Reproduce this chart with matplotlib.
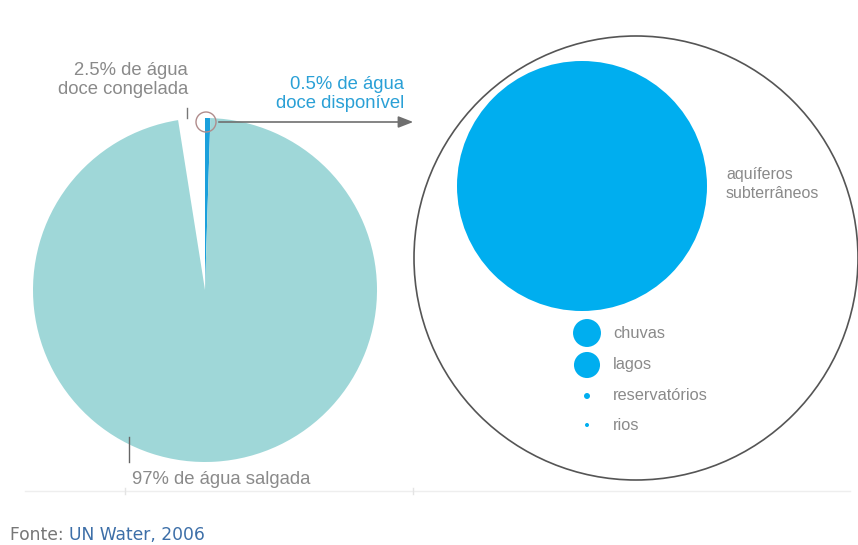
import numpy as np
import matplotlib.pyplot as plt
from matplotlib.patches import Circle

# water on earth, percent
shares = [2.5, 0.5, 97]
share_colors = ['#ffffff', '#1ba0dc', '#9fd7d8']

# available freshwater, percent of the 0.5%
fresh_names = ['aquíferos\nsubterrâneos', 'chuvas', 'lagos', 'reservatórios', 'rios']
fresh_values = [97.6, 1.22, 1.06, 0.056, 0.025]

W, H = 858, 545
fig = plt.figure(figsize=(W / 100, H / 100), dpi=100)
ax = fig.add_axes([0, 0, 1, 1])

def Y(y):
    return H - y

plt.rcParams['font.family'] = ['Liberation Sans', 'DejaVu Sans']
grey = '#8a8a8a'
blue_txt = '#2aa0d6'

# main pie
cx, cy, r = 205, 290, 172
start = 90 + shares[0] / 100 * 360
ax.pie(shares, colors=share_colors, center=(cx, Y(cy)), radius=r,
       startangle=start, counterclock=False,
       wedgeprops=dict(linewidth=0))
ax.set_xlim(0, W)
ax.set_ylim(0, H)
ax.set_aspect('equal')
ax.axis('off')

# highlight circle and arrow
ax.add_patch(Circle((206, Y(122)), 10, fill=False, ec='#b08c8c', lw=1))
ax.annotate('', xy=(416, Y(122)), xytext=(216, Y(122)),
            arrowprops=dict(arrowstyle='-|>,head_length=0.9,head_width=0.35',
                            color='#6f6f6f', lw=1.2))

# zoomed circle
ax.add_patch(Circle((636, Y(258)), 222, fill=False, ec='#555555', lw=1.2))

k = 125 / np.sqrt(fresh_values[0])
ax.add_patch(Circle((582, Y(186)), k * np.sqrt(fresh_values[0]), color='#00aeef', lw=0))
ax.text(726, Y(184), fresh_names[0], fontsize=11.5, color=grey, va='center', ha='left',
        linespacing=1.25)

ys = [333, 365, 396, 425]
for name, v, yy in zip(fresh_names[1:], fresh_values[1:], ys):
    ax.add_patch(Circle((587, Y(yy)), k * np.sqrt(v), color='#00aeef', lw=0))
    ax.text(613, Y(yy), name, fontsize=11.8, color=grey, va='center', ha='left')

# labels
ax.text(188, Y(80), '2.5% de água\ndoce congelada', fontsize=13.3, color=grey,
        ha='right', va='center', linespacing=1.12)
ax.plot([187, 187], [Y(108), Y(118)], color='#777777', lw=1)
ax.text(404, Y(94), '0.5% de água\ndoce disponível', fontsize=13.3, color=blue_txt,
        ha='right', va='center', linespacing=1.12)
ax.text(132, Y(479), '97% de água salgada', fontsize=13.3, color=grey,
        ha='left', va='center')
ax.plot([129, 129], [Y(437), Y(462)], color='#666666', lw=1)

# base line
ax.plot([25, 850], [Y(491), Y(491)], color='#eeeeee', lw=1)
for xt in [125, 413]:
    ax.plot([xt, xt], [Y(488), Y(494)], color='#e4e4e4', lw=1)

# source
t = ax.text(10, Y(535), 'Fonte: ', fontsize=12.3, color='#777777', family='DejaVu Sans',
            ha='left', va='center')
fig.canvas.draw()
bb = t.get_window_extent()
ax.text(bb.x1, Y(535), 'UN Water, 2006', fontsize=12.3, color='#3d6fa8',
        family='DejaVu Sans', ha='left', va='center')

fig.savefig('out.png', dpi=100)
